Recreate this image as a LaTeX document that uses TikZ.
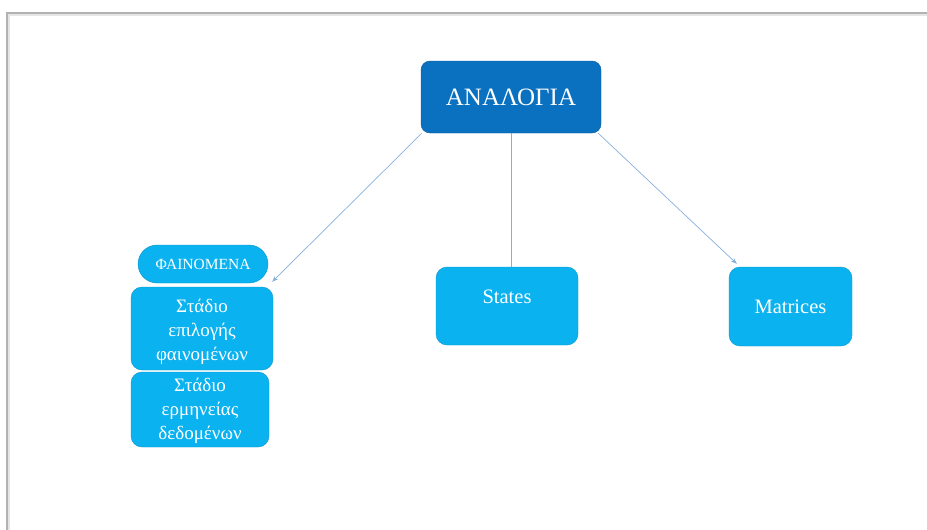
\documentclass[tikz,border=0pt]{standalone}
\usepackage{fontspec}
\setmainfont{Liberation Serif}
\usetikzlibrary{arrows.meta}
\definecolor{darkbox}{HTML}{0A70C0}
\definecolor{lightbox}{HTML}{0BB2F0}
\definecolor{linkblue}{HTML}{86AEDC}
\tikzset{
  x=1pt, y=-1pt,
  topbox/.style={draw=darkbox!80!black, fill=darkbox, rounded corners=9pt, text=white,
    minimum width=180pt, minimum height=72pt, font=\fontsize{25}{29}\selectfont},
  stepbox/.style={draw=lightbox!85!black, line width=0.4pt, fill=lightbox, rounded corners=11pt, text=white,
    align=center, inner sep=0pt},
  greektext/.style={text=white, align=center, font=\fontsize{19}{24}\selectfont},
  latintext/.style={text=white, font=\fontsize{20.5}{24}\selectfont},
  pillbox/.style={draw=lightbox!85!black, line width=0.4pt, fill=lightbox, rounded corners=19pt, text=white,
    minimum width=130pt, minimum height=38pt, inner sep=0pt, font=\fontsize{15.5}{18}\selectfont},
  link/.style={draw=linkblue, line width=0.7pt},
  linkarrow/.style={link, -{Stealth[length=6pt,width=4.5pt]}}
}
\begin{document}
\begin{tikzpicture}
\useasboundingbox (0,0) rectangle (927,530);
% slide edge with its soft shadow
\draw[black!10, line width=4pt] (927,14) -- (8,14) -- (8,530);
\draw[black!30, line width=1.2pt] (927,13) -- (7,13) -- (7,530);

% boxes
\node[topbox] (top) at (511,97) {ΑΝΑΛΟΓΙΑ};
\node[pillbox] (phen) at (203,264) {ΦΑΙΝΟΜΕΝΑ};
\node[stepbox, minimum width=142pt, minimum height=83pt,
  label={[greektext, yshift=-3pt]center:Στάδιο\\επιλογής\\φαινομένων}] (sel) at (202,328.5) {};
\node[stepbox, minimum width=138pt, minimum height=75pt,
  label={[greektext, yshift=-1pt]center:Στάδιο\\ερμηνείας\\δεδομένων}] (interp) at (200,409.5) {};
\node[stepbox, minimum width=142pt, minimum height=78pt,
  label={[latintext, yshift=9pt]center:States}] (states) at (507,306) {};
\node[stepbox, minimum width=123pt, minimum height=79pt,
  label={[latintext]center:Matrices}] (matr) at (790.5,306.5) {};

% connectors
\draw[linkarrow] ([xshift=1pt]top.south west) -- ([xshift=-1pt,yshift=5pt]sel.north east);
\draw[link] (top.south) -- (states.north -| top.south);
\draw[linkarrow] ([xshift=-3pt]top.south east) -- ([xshift=8pt,yshift=3pt]matr.north west);
\end{tikzpicture}
\end{document}
